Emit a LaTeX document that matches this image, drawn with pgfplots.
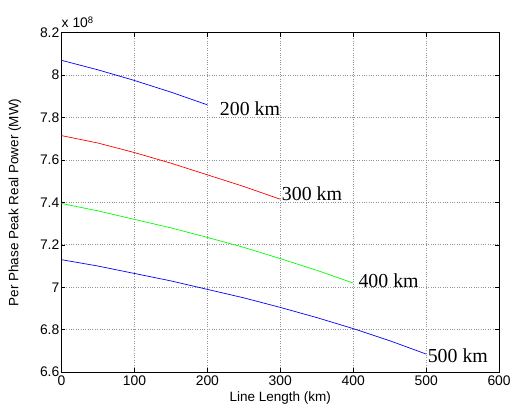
\documentclass[border=0pt]{standalone}
\usepackage{pgfplots}
\pgfplotsset{compat=1.18}
\usepackage{fontspec}
\setmainfont{Liberation Sans}
\newfontfamily\timesfont{Liberation Serif}
\begin{document}
\begin{tikzpicture}[x=1pt,y=1pt]
\begin{axis}[
  at={(0,0)}, anchor=south west,
  scale only axis,
  width=441pt, height=342pt,
  xmin=0, xmax=600, ymin=6.6, ymax=8.2,
  xtick={0,100,...,600},
  ytick={6.6,6.8,7,7.2,7.4,7.6,7.8,8,8.2},
  yticklabels={6.6,6.8,7,7.2,7.4,7.6,7.8,8,8.2},
  /pgf/number format/assume math mode=true,
  tick label style={font=\fontsize{14}{16}\selectfont},
  yticklabel style={inner sep=2pt},
  label style={font=\fontsize{13.6}{16}\selectfont},
  xlabel={Line Length (km)},
  ylabel={Per Phase Peak Real Power (MW)},
  xlabel style={at={(axis description cs:0.5,-0.076)}, anchor=center},
  ylabel style={at={(axis description cs:-0.1066,0.5)}, anchor=center},
  tick align=inside,
  major tick length=4pt,
  tick style={black, line width=0.6pt},
  grid=major,
  major grid style={gray!85, dotted, line width=0.7pt},
  axis line style={black, line width=1pt},
  clip=false,
]
\addplot[blue, line width=0.7pt] coordinates {(0,8.07) (50,8.025) (100,7.975) (150,7.92) (200,7.86)};
\addplot[red, line width=0.7pt] coordinates {(0,7.715) (50,7.68) (100,7.635) (150,7.585) (200,7.53) (250,7.475) (300,7.415)};
\addplot[green, line width=0.7pt] coordinates {(0,7.395) (50,7.36) (100,7.32) (150,7.28) (200,7.235) (250,7.188) (300,7.135) (350,7.08) (400,7.02)};
\addplot[blue, line width=0.7pt] coordinates {(0,7.13) (50,7.10) (100,7.065) (150,7.03) (200,6.99) (250,6.95) (300,6.905) (350,6.857) (400,6.805) (450,6.748) (500,6.685)};
\node[anchor=base west, inner sep=0pt, font=\timesfont\fontsize{20}{22}\selectfont] at (axis cs:217,7.808) {200 km};
\node[anchor=base west, inner sep=0pt, font=\timesfont\fontsize{20}{22}\selectfont] at (axis cs:302,7.41) {300 km};
\node[anchor=base west, inner sep=0pt, font=\timesfont\fontsize{20}{22}\selectfont] at (axis cs:407,7.0) {400 km};
\node[anchor=base west, inner sep=0pt, font=\timesfont\fontsize{20}{22}\selectfont] at (axis cs:502,6.647) {500 km};
\node[anchor=base west, inner sep=0pt, yshift=5pt, font=\fontsize{14}{16}\selectfont] at (rel axis cs:0,1) {x 10\raisebox{0.6ex}{\fontsize{9.5}{10}\selectfont 8}};
\end{axis}
\pgfresetboundingbox
\path (-62,-37) rectangle (454,375);
\end{tikzpicture}
\end{document}
